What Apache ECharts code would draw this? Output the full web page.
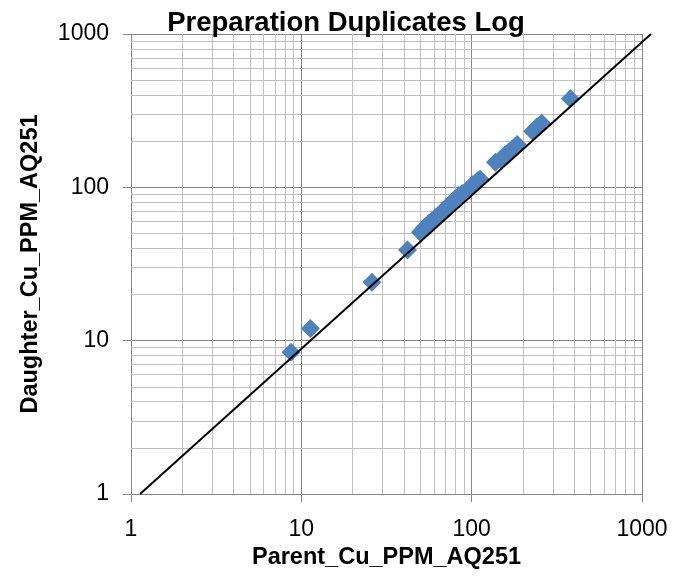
<!DOCTYPE html>
<html>
<head>
<meta charset="utf-8">
<script src="https://cdn.jsdelivr.net/npm/echarts@6/dist/echarts.min.js"></script>
<style>html,body{margin:0;padding:0;background:#fff}#c{width:687px;height:579px}</style>
</head>
<body>
<div id="c"></div>
<script>
var parentCu = [8.7, 11.3, 26, 42, 50, 53, 56, 59, 62, 65, 68, 71, 74, 77, 80, 84, 88, 97, 101, 108, 112, 138, 148, 156, 165, 175, 185, 228, 242, 258, 380];
var daughterCu = [8.4, 12, 24, 39, 51, 55, 58, 61, 64, 67, 70, 74, 77, 80, 84, 88, 91, 98, 104, 110, 113, 146, 152, 162, 170, 180, 190, 232, 248, 262, 378];
var refLineX = [1.13, 1130];
var refLineY = [1, 1000];
var majorTicks = [1, 10, 100, 1000];
var minorMults = [2, 3, 4, 5, 6, 7, 8, 9];

var pts = parentCu.map(function (v, i) { return [v, daughterCu[i]]; });
var minorVals = [];
majorTicks.slice(0, 3).forEach(function (d) { minorMults.forEach(function (m) { minorVals.push(d * m); }); });
var minorLines = [];
minorVals.forEach(function (v) { minorLines.push({ xAxis: v }); minorLines.push({ yAxis: v }); });

function fmt(v) { return String(Math.round(v)); }

var FONT = 'Liberation Sans';
var chart = echarts.init(document.getElementById('c'));
chart.setOption({
  animation: false,
  title: {
    text: 'Preparation Duplicates Log',
    left: 341,
    textAlign: 'center',
    top: 4,
    textStyle: { fontFamily: FONT, fontWeight: 'bold', fontSize: 27.5, color: '#000' }
  },
  grid: [
    { left: 131, right: 45, top: 34, bottom: 85 },
    { left: 131, right: 36, top: 34, bottom: 85 }
  ],
  xAxis: [{
    type: 'log', logBase: 10, min: 1, max: 1000, gridIndex: 0,
    name: 'Parent_Cu_PPM_AQ251', nameLocation: 'middle', nameGap: 52,
    nameTextStyle: { fontFamily: FONT, fontWeight: 'bold', fontSize: 23.5, color: '#000' },
    axisLine: { lineStyle: { color: '#868686', width: 1 } },
    axisTick: { show: true, inside: false, length: 8, lineStyle: { color: '#868686' } },
    axisLabel: { fontFamily: FONT, fontSize: 23, color: '#000', margin: 24, formatter: fmt },
    splitLine: { show: true, lineStyle: { color: '#868686', width: 1 } },
    minorTick: { show: false }, minorSplitLine: { show: false }
  }, {
    type: 'log', logBase: 10, min: 1, max: refLineX[1], gridIndex: 1, show: false
  }],
  yAxis: [{
    type: 'log', logBase: 10, min: 1, max: 1000, gridIndex: 0,
    name: 'Daughter_Cu_PPM_AQ251', nameLocation: 'middle', nameGap: 88,
    nameTextStyle: { fontFamily: FONT, fontWeight: 'bold', fontSize: 23.5, color: '#000' },
    axisLine: { show: true, lineStyle: { color: '#868686', width: 1 } },
    axisTick: { show: true, inside: false, length: 8, lineStyle: { color: '#868686' } },
    axisLabel: { fontFamily: FONT, fontSize: 23, color: '#000', margin: 22, formatter: fmt },
    splitLine: { show: true, lineStyle: { color: '#868686', width: 1 } },
    minorTick: { show: false }, minorSplitLine: { show: false }
  }, {
    type: 'log', logBase: 10, min: 1, max: 1000, gridIndex: 1, show: false
  }],
  series: [
    {
      type: 'line', data: [], z: 1, silent: true, xAxisIndex: 0, yAxisIndex: 0,
      markLine: {
        z: 1, silent: true, symbol: 'none', animation: false,
        label: { show: false },
        lineStyle: { color: '#BFBFBF', width: 1, type: 'solid' },
        emphasis: { disabled: true },
        data: minorLines
      }
    },
    {
      type: 'line', z: 3, clip: false, symbol: 'none', silent: true, xAxisIndex: 1, yAxisIndex: 1,
      data: [[refLineX[0], refLineY[0]], [refLineX[1], refLineY[1]]],
      lineStyle: { color: '#000', width: 2 }
    },
    {
      type: 'scatter', z: 2, symbol: 'diamond', symbolSize: 19, xAxisIndex: 0, yAxisIndex: 0,
      itemStyle: { color: '#4F81BD', opacity: 1 },
      data: pts
    }
  ]
});
</script>
</body>
</html>
